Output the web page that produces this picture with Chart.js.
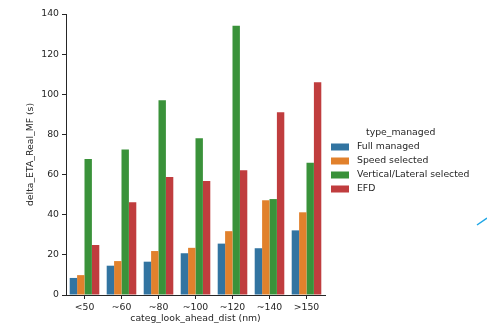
<!DOCTYPE html>
<html>
<head>
<meta charset="utf-8">
<script src="https://cdn.jsdelivr.net/npm/chart.js@4"></script>
<style>
  html, body { margin: 0; padding: 0; background: #fff; }
  #wrap { width: 487px; height: 326px; }
</style>
</head>
<body>
<div id="wrap"><canvas id="chart" width="487" height="326"></canvas></div>
<script>
// категории и значения
const categories = ['<50', '~60', '~80', '~100', '~120', '~140', '>150'];
const fullManaged = [8.5, 14.6, 16.6, 20.8, 25.6, 23.3, 32.2];
const speedSelected = [9.9, 16.9, 21.9, 23.5, 31.8, 47.2, 41.2];
const vertLatSelected = [67.8, 72.5, 97.0, 78.1, 134.2, 47.8, 65.9];
const efd = [24.9, 46.2, 58.8, 56.8, 62.2, 91.1, 106.0];
const yTicks = [0, 20, 40, 60, 80, 100, 120, 140];

const seriesNames = ['Full managed', 'Speed selected', 'Vertical/Lateral selected', 'EFD'];
const seriesColors = ['#3274a1', '#e1812c', '#3a923a', '#c03d3e'];
const seriesData = [fullManaged, speedSelected, vertLatSelected, efd];

const font = "'DejaVu Sans', sans-serif";
const fontSize = 9.3;
const textColor = '#262626';

// легенда справа, рисуем сами
const legendPlugin = {
    id: 'sideLegend',
    afterDraw(chart) {
        const ctx = chart.ctx;
        ctx.save();
        ctx.font = fontSize + 'px ' + font;
        ctx.fillStyle = textColor;
        ctx.textBaseline = 'middle';
        ctx.textAlign = 'left';
        ctx.fillText('type_managed', 366, 133);
        chart.data.datasets.forEach((ds, i) => {
            const y = 147 + i * 14;
            ctx.fillStyle = ds.backgroundColor;
            ctx.fillRect(331, y - 3.5, 18, 7);
            ctx.fillStyle = textColor;
            ctx.fillText(ds.label, 357, y);
        });
        // непонятный синий штрих справа
        ctx.strokeStyle = '#1ea6e6';
        ctx.lineWidth = 1.5;
        ctx.beginPath();
        ctx.moveTo(477, 225);
        ctx.lineTo(487, 218);
        ctx.stroke();
        ctx.restore();
    }
};

const ctx = document.getElementById('chart').getContext('2d');
const chart = new Chart(ctx, {
    type: 'bar',
    data: {
        labels: categories,
        datasets: seriesData.map((d, i) => ({
            label: seriesNames[i],
            data: d,
            backgroundColor: seriesColors[i],
            borderWidth: 0,
            categoryPercentage: 0.8,
            barPercentage: 1.0
        }))
    },
    options: {
        responsive: false,
        animation: false,
        devicePixelRatio: 1,
        layout: { padding: { left: 0, right: 162, top: 14, bottom: 0 } },
        plugins: {
            legend: { display: false },
            tooltip: { enabled: false }
        },
        scales: {
            x: {
                afterFit: s => { s.height = 31; },
                grid: {
                    display: true,
                    offset: false,
                    drawOnChartArea: false,
                    drawTicks: true,
                    tickLength: 4,
                    color: textColor
                },
                border: { display: true, color: textColor, width: 1 },
                ticks: { color: textColor, font: { family: font, size: fontSize }, padding: 3, maxRotation: 0 },
                title: {
                    display: true,
                    text: 'categ_look_ahead_dist (nm)',
                    color: textColor,
                    font: { family: font, size: fontSize },
                    padding: { top: 0, bottom: 2 }
                }
            },
            y: {
                min: 0,
                max: 140,
                afterFit: s => { s.width = 66; },
                afterBuildTicks: s => { s.ticks = yTicks.map(v => ({ value: v })); },
                grid: {
                    display: true,
                    drawOnChartArea: false,
                    drawTicks: true,
                    tickLength: 4,
                    color: textColor
                },
                border: { display: true, color: textColor, width: 1 },
                ticks: { color: textColor, font: { family: font, size: fontSize }, padding: 3 },
                title: {
                    display: true,
                    text: 'delta_ETA_Real_MF (s)',
                    color: textColor,
                    font: { family: font, size: fontSize },
                    padding: { top: 25, bottom: 0 }
                }
            }
        }
    },
    plugins: [legendPlugin]
});
</script>
</body>
</html>
